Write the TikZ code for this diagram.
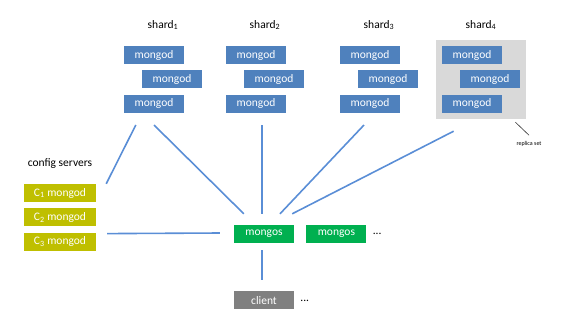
\documentclass[tikz,border=0pt]{standalone}
\usepackage{fontspec}
\setmainfont{Carlito}
\usetikzlibrary{positioning, fit, backgrounds}
\definecolor{MongodAzul}{HTML}{4F81BD}
\definecolor{ConfigAmarillo}{HTML}{BFBF00}
\definecolor{MongosVerde}{HTML}{00B050}
\definecolor{ClienteGris}{HTML}{808080}
\definecolor{LineaAzul}{HTML}{5A8ED6}
\definecolor{ReplicaGris}{HTML}{D9D9D9}

\begin{document}
\begin{tikzpicture}[
    x=1pt, y=-1pt,
    font=\fontsize{11.5}{13}\selectfont,
    caja/.style={minimum width=60pt, minimum height=18pt, inner sep=0pt, text=white},
    mongod/.style={caja, fill=MongodAzul},
    config/.style={caja, fill=ConfigAmarillo, minimum width=72pt},
    mongos/.style={caja, fill=MongosVerde},
    cliente/.style={caja, fill=ClienteGris},
    enlace/.style={draw=LineaAzul, line width=1.6pt}
]
    \useasboundingbox (0,0) rectangle (572,333);

    % 1. Shards (tres mongod por shard)
    \node[mongod] (m11) at (154,55) {mongod};
    \node[mongod, below=6pt of m11, xshift=18pt] (m12) {mongod};
    \node[mongod, below=6pt of m12, xshift=-18pt] (m13) {mongod};
    \node (shard1) at (163,25) {shard\textsubscript{1}};

    \node[mongod] (m21) at (256,55) {mongod};
    \node[mongod, below=6pt of m21, xshift=18pt] (m22) {mongod};
    \node[mongod, below=6pt of m22, xshift=-18pt] (m23) {mongod};
    \node (shard2) at (265,25) {shard\textsubscript{2}};

    \node[mongod] (m31) at (370,55) {mongod};
    \node[mongod, below=6pt of m31, xshift=18pt] (m32) {mongod};
    \node[mongod, below=6pt of m32, xshift=-18pt] (m33) {mongod};
    \node (shard3) at (379,25) {shard\textsubscript{3}};

    \node[mongod] (m41) at (472,55) {mongod};
    \node[mongod, below=6pt of m41, xshift=18pt] (m42) {mongod};
    \node[mongod, below=6pt of m42, xshift=-18pt] (m43) {mongod};
    \node (shard4) at (481,25) {shard\textsubscript{4}};

    % el replica set del shard 4 va sobre fondo gris
    \begin{scope}[on background layer]
        \node[fill=ReplicaGris, inner sep=6pt, fit=(m41) (m42) (m43)] (replica) {};
    \end{scope}
    \node[font=\fontsize{6}{7}\selectfont, inner sep=1pt] (rslabel) at (529,144) {replica set};
    \draw[black!80, line width=0.6pt] ([xshift=-11pt, yshift=-3pt]replica.south east) -- ([yshift=5pt]rslabel.north);

    % 2. Config servers
    \node (cfgtitulo) at (60,164) {config servers};
    \node[config] (c1) at (60,193) {C\textsubscript{1} mongod};
    \node[config, below=6pt of c1] (c2) {C\textsubscript{2} mongod};
    \node[config, below=6pt of c2] (c3) {C\textsubscript{3} mongod};

    % 3. Routers mongos y cliente
    \node[mongos] (mongos1) at (264,234) {mongos};
    \node[mongos, right=12pt of mongos1] (mongos2) {mongos};
    \node[right=4pt of mongos2, inner sep=2pt] (masmongos) {...};
    \node[cliente, below=48pt of mongos1] (client) {client};
    \node[right=4pt of client, inner sep=2pt] (masclient) {...};

    % 4. Conexiones
    \draw[enlace] ([xshift=12pt, yshift=-12pt]m13.south west) -- ([xshift=10pt]c1.north east);
    \draw[enlace] ([yshift=-12pt]m13.south) -- ([xshift=10pt, yshift=11pt]mongos1.north west);
    \draw[enlace] ([xshift=6pt, yshift=-12pt]m23.south) -- ([xshift=-2pt, yshift=11pt]mongos1.north);
    \draw[enlace] ([xshift=-6pt, yshift=-12pt]m33.south) -- ([xshift=16pt, yshift=11pt]mongos1.north);
    \draw[enlace] ([xshift=18pt, yshift=-12pt]replica.south west) -- ([xshift=-2pt, yshift=11pt]mongos1.north east);
    \draw[enlace] ([xshift=11pt, yshift=-1pt]c3.north east) -- ([xshift=-14pt, yshift=1pt]mongos1.west);
    \draw[enlace] ([xshift=-2pt, yshift=-7pt]mongos1.south) -- ([xshift=-2pt, yshift=11pt]client.north);

\end{tikzpicture}
\end{document}
